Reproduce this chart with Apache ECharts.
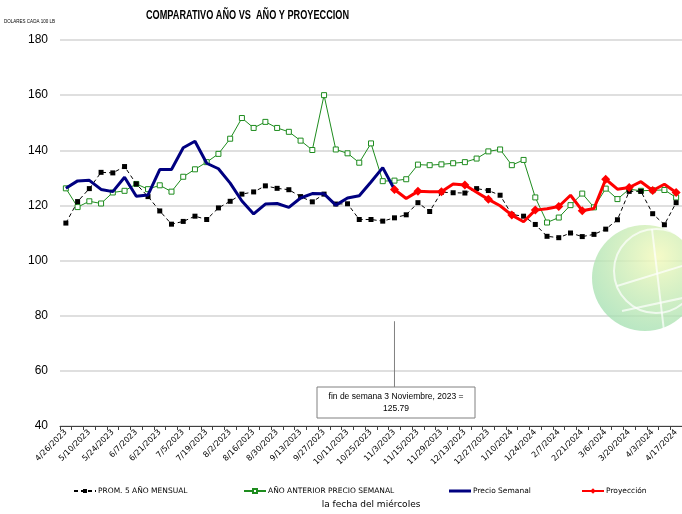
<!DOCTYPE html>
<html>
<head>
<meta charset="utf-8">
<script src="https://cdn.jsdelivr.net/npm/echarts@6/dist/echarts.min.js"></script>
<style>
  html, body { margin: 0; padding: 0; background: #fff; }
  #chart { width: 682px; height: 514px; }
</style>
</head>
<body>
<div id="chart"></div>
<script>
// fechas semanales (miercoles), se etiqueta una de cada dos
var fechas = [
  "4/26/2023", "5/3/2023", "5/10/2023", "5/17/2023", "5/24/2023", "5/31/2023",
  "6/7/2023", "6/14/2023", "6/21/2023", "6/28/2023", "7/5/2023", "7/12/2023",
  "7/19/2023", "7/26/2023", "8/2/2023", "8/9/2023", "8/16/2023", "8/23/2023",
  "8/30/2023", "9/6/2023", "9/13/2023", "9/20/2023", "9/27/2023", "10/4/2023",
  "10/11/2023", "10/18/2023", "10/25/2023", "11/1/2023", "11/3/2023", "11/8/2023",
  "11/15/2023", "11/22/2023", "11/29/2023", "12/6/2023", "12/13/2023", "12/20/2023",
  "12/27/2023", "1/3/2024", "1/10/2024", "1/17/2024", "1/24/2024", "1/31/2024",
  "2/7/2024", "2/14/2024", "2/21/2024", "2/28/2024", "3/6/2024", "3/13/2024",
  "3/20/2024", "3/27/2024", "4/3/2024", "4/10/2024", "4/17/2024"
];

var prom5 = [
  113.6, 121.4, 126.1, 132.0, 131.8, 134.1, 127.8, 123.2, 118.0, 113.2,
  114.2, 116.1, 114.9, 119.1, 121.5, 124.1, 124.9, 127.1, 126.2, 125.7,
  123.2, 121.3, 124.1, 120.5, 120.6, 114.9, 114.9, 114.3, 115.5, 116.6,
  121.0, 117.8, 124.8, 124.6, 124.5, 126.1, 125.4, 123.7, 116.7, 116.1,
  113.1, 108.8, 108.3, 110.0, 108.7, 109.5, 111.4, 114.8, 125.1, 125.1,
  117.0, 113.0, 121.0
];

var anioAnterior = [
  126.2, 119.4, 121.5, 120.7, 124.7, 125.3, 127.8, 125.9, 127.3, 125.0,
  130.4, 133.1, 135.7, 138.7, 144.2, 151.7, 148.1, 150.3, 148.1, 146.7,
  143.5, 140.1, 160.0, 140.3, 138.9, 135.5, 142.5, 128.8, 129.0, 129.5,
  134.8, 134.6, 134.9, 135.3, 135.7, 137.0, 139.6, 140.3, 134.6, 136.5,
  122.9, 113.8, 115.6, 120.1, 124.3, 119.3, 126.1, 122.3, 125.9, 125.3,
  125.5, 125.6, 122.9
];

var precioSemanal = [
  126.2, 128.9, 129.1, 125.8, 125.0, 130.2, 123.3, 123.8, 133.0, 133.0,
  140.9, 143.3, 135.3, 133.3, 128.1, 121.6, 116.9, 120.5, 120.7, 119.3,
  122.7, 124.3, 124.2, 120.1, 122.7, 123.5, 128.5, 133.7, 125.79,
  null, null, null, null, null, null, null, null, null, null, null, null,
  null, null, null, null, null, null, null, null, null, null, null, null
];

var proyeccion = [
  null, null, null, null, null, null, null, null, null, null,
  null, null, null, null, null, null, null, null, null, null,
  null, null, null, null, null, null, null, null,
  125.79, 122.5, 125.1, 125.0, 125.0, 127.8, 127.4, 124.8, 122.2, 119.9,
  116.5, 114.1, 118.3, 118.8, 119.6, 123.7, 118.1, 118.9, 129.5, 125.9,
  126.5, 128.6, 125.4, 127.7, 124.7
];

var nombres = ["PROM. 5 AÑO MENSUAL", "AÑO ANTERIOR PRECIO SEMANAL", "Precio Semanal", "Proyección"];
var titulo = "COMPARATIVO AÑO VS  AÑO Y PROYECCION";
var unidad = "DOLARES CADA 100 LB";
var idxNota = 28; // 11/3/2023
var textoNota = "fin de semana 3 Noviembre, 2023 =\n125.79";

var FONT = "Liberation Sans";
var chart = echarts.init(document.getElementById("chart"));

// texto angosto (la fuente original es condensada)
function anchoTexto(txt, font) {
  var ctx = document.createElement("canvas").getContext("2d");
  ctx.font = font;
  return ctx.measureText(txt).width;
}

function legendItem(name, left, opts) {
  var l = {
    data: [name],
    left: left,
    top: 482,
    itemWidth: 22,
    itemHeight: 5,
    itemGap: 0,
    selectedMode: false,
    textStyle: { fontFamily: "DejaVu Sans", fontSize: 7.5, color: "#000", padding: [0, 0, 0, -3] },
  };
  return Object.assign(l, opts || {});
}

var option = {
  animation: false,
  backgroundColor: "#fff",
  legend: [
    legendItem(nombres[0], 68),
    legendItem(nombres[1], 238),
    legendItem({ name: nombres[2], icon: "rect" }, 444, { itemHeight: 3 }),
    legendItem(nombres[3], 576, { itemHeight: 7 }),
  ],
  grid: { left: 60, top: 40, width: 625, height: 388 },
  xAxis: {
    type: "category",
    data: fechas,
    boundaryGap: true,
    name: "la fecha del miércoles",
    nameLocation: "middle",
    nameGap: 74,
    nameTextStyle: { fontFamily: "DejaVu Sans", fontSize: 9, color: "#000" },
    axisLine: { lineStyle: { color: "#404040", width: 1 } },
    axisTick: { show: true, interval: 0, length: 4, lineStyle: { color: "#404040" } },
    axisLabel: {
      interval: 1,
      rotate: 45,
      margin: 5,
      fontFamily: "DejaVu Sans",
      fontSize: 8,
      color: "#000",
    },
    splitLine: { show: false },
  },
  yAxis: {
    type: "value",
    min: 40,
    max: 180,
    interval: 20,
    axisLine: { show: false },
    axisTick: { show: false },
    axisLabel: { fontFamily: FONT, fontSize: 12, color: "#000", margin: 12 },
    splitLine: { lineStyle: { color: "#d4d4d4", width: 1.5 } },
  },
  series: [
    {
      name: nombres[0],
      type: "line",
      data: prom5,
      symbol: "rect",
      symbolSize: 5,
      itemStyle: { color: "#000" },
      lineStyle: { color: "#000", width: 1, type: [4, 3] },
      z: 3,
    },
    {
      name: nombres[1],
      type: "line",
      data: anioAnterior,
      symbol: "rect",
      symbolSize: 5,
      itemStyle: { color: "#fff", borderColor: "#1e8c1e", borderWidth: 1 },
      lineStyle: { color: "#1e8c1e", width: 1 },
      z: 2,
    },
    {
      name: nombres[2],
      type: "line",
      data: precioSemanal,
      showSymbol: false,
      symbol: "none",
      itemStyle: { color: "#000080" },
      lineStyle: { color: "#000080", width: 3 },
      z: 4,
    },
    {
      name: nombres[3],
      type: "line",
      data: proyeccion,
      symbol: "diamond",
      symbolSize: 9,
      itemStyle: { color: "#ff0000" },
      lineStyle: { color: "#ff0000", width: 3 },
      z: 5,
    },
  ],
};

chart.setOption(option);

// titulo, nota y logo de fondo
var fTitulo = "bold 12px " + FONT;
var sTitulo = 203 / anchoTexto(titulo, fTitulo);
var fUnidad = "6px " + FONT;
var sUnidad = 51 / anchoTexto(unidad, fUnidad);

var px = chart.convertToPixel({ xAxisIndex: 0 }, idxNota);
var yTop = chart.convertToPixel({ yAxisIndex: 0 }, 78);
var boxTop = 387;
chart.setOption({
  graphic: [
    {
      type: "text",
      x: 146,
      y: 16,
      scaleX: sTitulo,
      style: { text: titulo, font: fTitulo, fill: "#000", verticalAlign: "middle" },
    },
    {
      type: "text",
      x: 4,
      y: 21,
      scaleX: sUnidad,
      style: { text: unidad, font: fUnidad, fill: "#000", verticalAlign: "middle" },
    },
    {
      type: "group",
      left: 592,
      top: 225,
      z: 0,
      silent: true,
      children: [
        {
          type: "circle",
          shape: { cx: 53, cy: 52, r: 53 },
          style: {
            fill: new echarts.graphic.RadialGradient(0.62, 0.3, 0.75, [
              { offset: 0, color: "rgba(244,250,190,0.85)" },
              { offset: 1, color: "rgba(160,222,175,0.75)" },
            ]),
          },
        },
        {
          type: "arc",
          shape: { cx: 64, cy: 45, r: 42, startAngle: 0, endAngle: Math.PI * 2 },
          style: { stroke: "rgba(255,255,255,0.7)", lineWidth: 2, fill: null },
        },
        {
          type: "line",
          shape: { x1: 25, y1: 60, x2: 106, y2: 35 },
          style: { stroke: "rgba(255,255,255,0.7)", lineWidth: 2 },
        },
        {
          type: "line",
          shape: { x1: 30, y1: 85, x2: 100, y2: 70 },
          style: { stroke: "rgba(255,255,255,0.7)", lineWidth: 2 },
        },
        {
          type: "line",
          shape: { x1: 60, y1: 3, x2: 72, y2: 105 },
          style: { stroke: "rgba(255,255,255,0.7)", lineWidth: 2 },
        },
      ],
    },
    {
      type: "line",
      shape: { x1: px, y1: yTop, x2: px, y2: boxTop },
      style: { stroke: "#808080", lineWidth: 1 },
      z: 10,
    },
    {
      type: "rect",
      shape: { x: 317, y: boxTop, width: 158, height: 31 },
      style: { fill: "#fff", stroke: "#808080", lineWidth: 1 },
      z: 10,
    },
    {
      type: "text",
      x: 396,
      y: boxTop + 16,
      style: {
        text: textoNota,
        fontFamily: FONT,
        fontSize: 8.5,
        lineHeight: 12,
        fill: "#000",
        align: "center",
        verticalAlign: "middle",
      },
      z: 11,
    },
  ],
});
</script>
</body>
</html>
